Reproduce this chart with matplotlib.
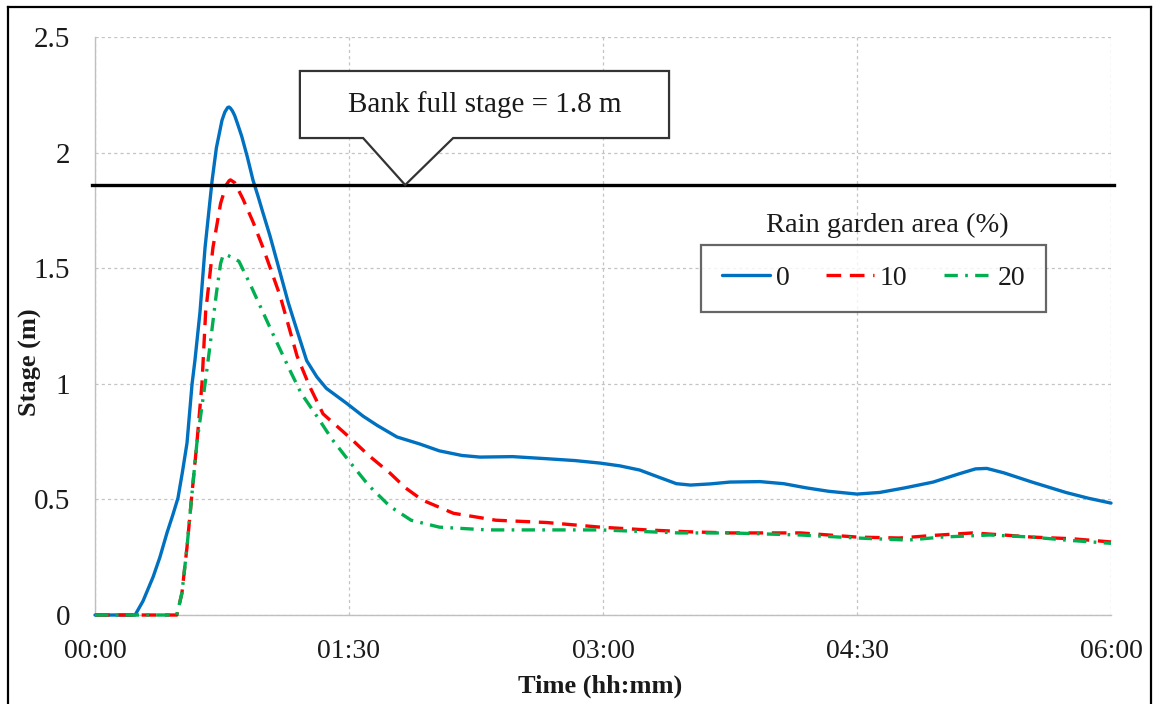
import matplotlib
matplotlib.use("Agg")
import matplotlib.pyplot as plt
from matplotlib.patches import Polygon
from matplotlib.lines import Line2D

plt.rcParams['font.family'] = ['Liberation Serif', 'DejaVu Serif']

# Time in minutes since 00:00
t_0 = [0, 14.2, 17, 20.6, 23, 25.5, 27.5, 29.4, 31, 32.6, 34.4, 35.4, 37.2, 39,
       41.5, 43, 44, 45, 46, 47, 47.5, 48, 48.7, 49.5, 50.5, 52, 54, 56, 57.8,
       59.5, 62, 65.6, 68.5, 71.6, 75, 78.6, 82, 89, 95, 100, 107,
       115, 122, 130, 136.4, 148, 160, 170, 179, 186, 193, 200, 206, 211, 218,
       225, 235.6, 244, 252, 260, 270, 278, 287, 297, 306, 312, 316, 322, 332,
       344, 352, 360]
stage_0 = [0, 0, 0.06, 0.165, 0.25, 0.355, 0.43, 0.506, 0.62, 0.744, 1.0, 1.10,
           1.31, 1.59, 1.88, 2.02, 2.08, 2.14, 2.175, 2.195, 2.197, 2.192, 2.18,
           2.16, 2.125, 2.07, 1.98, 1.88, 1.81, 1.74, 1.64, 1.48, 1.35, 1.23,
           1.10, 1.03, 0.98, 0.917, 0.86, 0.82, 0.77, 0.74, 0.71, 0.69, 0.683,
           0.685, 0.676, 0.668, 0.657, 0.645, 0.627, 0.595, 0.568, 0.562, 0.567,
           0.575, 0.577, 0.568, 0.55, 0.535, 0.523, 0.53, 0.55, 0.575, 0.61,
           0.632, 0.634, 0.615, 0.575, 0.53, 0.505, 0.484]

t_10 = [0, 29, 30.8, 32.6, 34.4, 36.1, 37.9, 39.2, 41.8, 44.5, 46.5, 47.5, 48,
        48.5, 49.5, 52.4, 56, 59.5, 65.6, 71.6, 76, 80.8, 90.4, 97, 104.5, 110,
        116, 127, 142, 160, 179, 195.6, 210, 225, 250, 270, 285, 298, 311, 322,
        332, 346, 360]
stage_10 = [0, 0, 0.095, 0.294, 0.53, 0.744, 1.0, 1.31, 1.59, 1.78, 1.86, 1.878,
            1.882, 1.878, 1.87, 1.80, 1.70, 1.59, 1.38, 1.12, 0.99, 0.87, 0.766,
            0.69, 0.614, 0.55, 0.497, 0.44, 0.41, 0.40, 0.38, 0.368, 0.36, 0.355,
            0.355, 0.337, 0.333, 0.345, 0.355, 0.346, 0.337, 0.33, 0.316]

t_20 = [0, 29, 30.8, 32.6, 34.4, 36.1, 39, 40.7, 43, 44.5, 45.4, 46.5, 48, 51,
        55, 59.5, 64, 69, 73, 78.6, 84, 90.4, 97, 104.5, 112, 122, 139, 160,
        179, 207, 225, 250, 270, 288, 300, 317, 332, 344, 360]
stage_20 = [0, 0, 0.095, 0.294, 0.53, 0.744, 1.0, 1.16, 1.39, 1.52, 1.557,
            1.558, 1.55, 1.53, 1.43, 1.31, 1.19, 1.06, 0.96, 0.86, 0.76, 0.66,
            0.56, 0.47, 0.41, 0.38, 0.368, 0.368, 0.368, 0.355, 0.355, 0.346,
            0.333, 0.324, 0.337, 0.346, 0.337, 0.324, 0.31]

series_labels = ['0', '10', '20']
bank_full_stage = 1.86
x_ticks = [0, 90, 180, 270, 360]
x_tick_labels = ['00:00', '01:30', '03:00', '04:30', '06:00']
y_ticks = [0, 0.5, 1, 1.5, 2, 2.5]
y_tick_labels = ['0', '0.5', '1', '1.5', '2', '2.5']

W, H = 1153, 704
fig = plt.figure(figsize=(W / 100, H / 100), dpi=100)
ax = fig.add_axes([95 / W, 1 - 615 / H, (1111 - 95) / W, (615 - 37) / H])

grid_c = '#c4c4c4'
for s in ['top', 'right']:
    ax.spines[s].set_visible(False)
for s in ['left', 'bottom']:
    ax.spines[s].set_color('#bfbfbf')
    ax.spines[s].set_linewidth(1.0)

ax.set_xlim(0, 360)
ax.set_ylim(0, 2.5)
ax.set_xticks(x_ticks)
ax.set_xticklabels(x_tick_labels)
ax.set_yticks(y_ticks)
ax.set_yticklabels(y_tick_labels)
ax.tick_params(axis='both', length=0, colors='#1a1a1a')
ax.tick_params(axis='y', pad=18, labelsize=21)
ax.tick_params(axis='x', pad=17, labelsize=20)
ax.grid(True, color=grid_c, linestyle=(0, (2.5, 2.5)), linewidth=0.9)
ax.set_axisbelow(True)

lw = 2.4
l0, = ax.plot(t_0, stage_0, color='#0070C0', lw=lw, solid_joinstyle='round',
              solid_capstyle='round', label=series_labels[0], clip_on=False, zorder=3)
l1, = ax.plot(t_10, stage_10, color='#FF0000', lw=lw,
              linestyle=(0, (4.4, 2.6)), label=series_labels[1], clip_on=False, zorder=3)
l2, = ax.plot(t_20, stage_20, color='#00B050', lw=lw,
              linestyle=(0, (4.0, 2.2, 0.8, 2.2)), label=series_labels[2], clip_on=False, zorder=3)

ax.plot([-1, 361], [bank_full_stage, bank_full_stage], color='black', lw=2.4,
        clip_on=False, zorder=4)

# Callout box
callout = [(72.6, 2.353), (203.4, 2.353), (203.4, 2.063), (126.9, 2.063),
           (109.9, bank_full_stage), (95.0, 2.063), (72.6, 2.063)]
ax.add_patch(Polygon(callout, closed=True, facecolor='white', edgecolor='#333333',
                     lw=1.6, zorder=5, clip_on=False))
ax.text(138, 2.21, 'Bank full stage = 1.8 m', ha='center', va='center',
        fontsize=21, color='#1a1a1a', zorder=6)

# Legend
leg = ax.legend(handles=[l0, l1, l2], loc='center', ncol=3,
                bbox_to_anchor=(873.5 / W, 1 - 278.5 / H),
                bbox_transform=fig.transFigure, fontsize=20, frameon=True,
                fancybox=False, edgecolor='#404040', handlelength=1.75,
                handletextpad=0.2, columnspacing=1.3, borderpad=0.75)
leg.get_frame().set_linewidth(1.6)
for tx in leg.get_texts():
    tx.set_color('#1a1a1a')
fig.text(887 / W, 1 - 225 / H, 'Rain garden area (%)', ha='center', va='center',
         fontsize=20.5, color='#1a1a1a')

fig.text(30 / W, 1 - 362 / H, 'Stage (m)', rotation=90, ha='center', va='center',
         fontsize=19, fontweight='bold', color='#1a1a1a')
fig.text(600 / W, 1 - 686 / H, 'Time (hh:mm)', ha='center', va='center',
         fontsize=19, fontweight='bold', color='#1a1a1a')

# Outer frame
fx0, fx1, fy1 = 7.5 / W, 1150.5 / W, 1 - 6.5 / H
fig.add_artist(Line2D([fx0, fx0], [-0.01, fy1], color='black', lw=1.6))
fig.add_artist(Line2D([fx0, fx1], [fy1, fy1], color='black', lw=1.6))
fig.add_artist(Line2D([fx1, fx1], [-0.01, fy1], color='black', lw=1.6))

fig.savefig('out.png', dpi=100)
